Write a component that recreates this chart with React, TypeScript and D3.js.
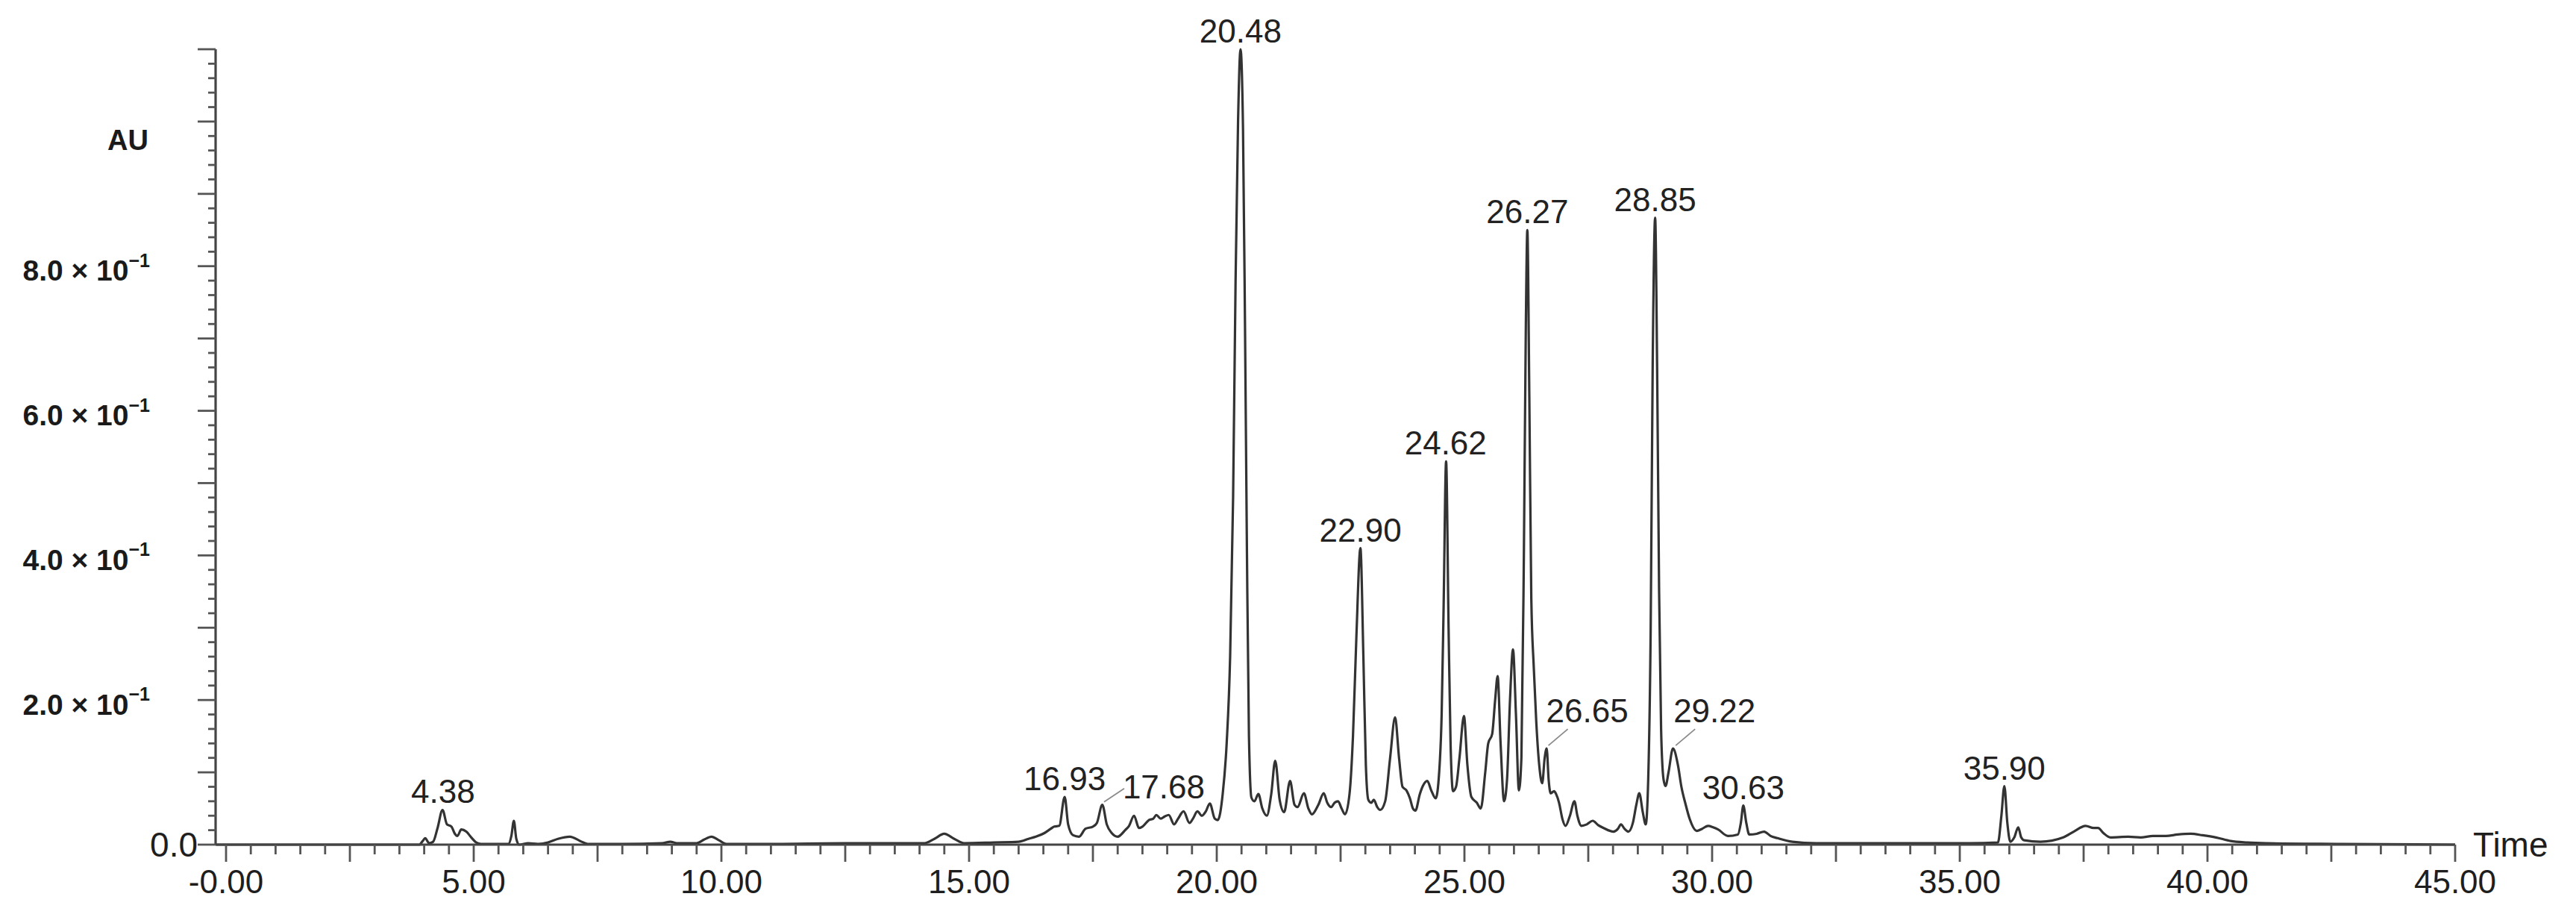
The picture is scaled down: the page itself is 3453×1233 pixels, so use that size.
import React from 'react';
import * as d3 from 'd3';

// ---- data ----
const traceTime = [
  -0.2, 3.9, 3.97, 4.02, 4.1, 4.18, 4.27, 4.37, 4.46, 4.55, 4.62, 4.67, 4.75, 4.85, 4.95, 5.05, 5.15,
  5.7, 5.76, 5.81, 5.86, 5.92, 6.1, 6.3, 6.5, 6.7, 6.94, 7.15, 7.3, 8.0, 8.8, 8.97, 9.1, 9.5, 9.65, 9.8,
  9.95, 10.1, 11.0, 12.5, 13.5, 14.1, 14.3, 14.5, 14.7, 14.9, 15.5, 16.0, 16.2, 16.35, 16.52, 16.65,
  16.72, 16.82, 16.93, 17.0, 17.1, 17.22, 17.35, 17.5, 17.58, 17.69, 17.78, 17.88, 18.0, 18.15, 18.23,
  18.33, 18.43, 18.5, 18.63, 18.72, 18.78, 18.87, 18.95, 19.03, 19.14, 19.22, 19.33, 19.45, 19.52,
  19.61, 19.7, 19.78, 19.86, 19.96, 20.02, 20.12, 20.2, 20.27, 20.33, 20.38, 20.43, 20.48, 20.53,
  20.57, 20.61, 20.65, 20.7, 20.76, 20.84, 20.92, 21.01, 21.1, 21.18, 21.27, 21.36, 21.48, 21.57,
  21.63, 21.76, 21.85, 21.92, 22.05, 22.16, 22.23, 22.31, 22.38, 22.45, 22.52, 22.59, 22.68, 22.75,
  22.82, 22.9, 22.96, 23.01, 23.06, 23.12, 23.17, 23.24, 23.3, 23.4, 23.5, 23.6, 23.68, 23.75, 23.83,
  23.9, 23.96, 24.01, 24.1, 24.16, 24.25, 24.33, 24.42, 24.49, 24.54, 24.58, 24.63, 24.68, 24.72,
  24.77, 24.83, 24.9, 24.99, 25.06, 25.14, 25.25, 25.33, 25.42, 25.48, 25.56, 25.62, 25.67, 25.73,
  25.8, 25.86, 25.92, 25.98, 26.04, 26.1, 26.15, 26.2, 26.24, 26.27, 26.31, 26.35, 26.4, 26.45, 26.51,
  26.57, 26.62, 26.66, 26.7, 26.74, 26.81, 26.85, 26.91, 26.98, 27.04, 27.13, 27.22, 27.28, 27.36,
  27.47, 27.59, 27.7, 27.81, 28.01, 28.1, 28.16, 28.23, 28.31, 28.4, 28.47, 28.53, 28.6, 28.66, 28.71,
  28.76, 28.8, 28.85, 28.89, 28.93, 28.97, 29.02, 29.06, 29.12, 29.21, 29.31, 29.38, 29.46, 29.55,
  29.69, 29.8, 29.92, 30.02, 30.12, 30.32, 30.52, 30.58, 30.63, 30.69, 30.75, 30.9, 31.05, 31.18,
  31.32, 31.62, 32.1, 33.5, 34.4, 35.2, 35.77, 35.84, 35.9, 35.96, 36.02, 36.1, 36.18, 36.24, 36.3,
  36.63, 37.09, 37.3, 37.54, 37.7, 37.79, 37.9, 38.04, 38.4, 38.65, 38.9, 39.16, 39.4, 39.66, 39.9,
  40.17, 40.47, 40.8, 41.18, 42.7, 45.0,
];

const traceAU = [
  0, 0, 0.005, 0.009, 0.002, 0.004, 0.023, 0.048, 0.028, 0.025, 0.015, 0.012, 0.021, 0.018, 0.01, 0.003, 0.001,
  0.001, 0.012, 0.033, 0.008, 0, 0.002, 0.001, 0.003, 0.008, 0.011, 0.005, 0.001, 0.001, 0.002, 0.004, 0.002, 0.002, 0.007, 0.011,
  0.006, 0.001, 0.001, 0.002, 0.002, 0.002, 0.008, 0.015, 0.008, 0.002, 0.003, 0.004, 0.008, 0.011, 0.016, 0.022,
  0.025, 0.026, 0.066, 0.028, 0.013, 0.011, 0.022, 0.025, 0.03, 0.055, 0.028, 0.016, 0.011, 0.02, 0.026,
  0.04, 0.023, 0.025, 0.034, 0.036, 0.041, 0.036, 0.039, 0.041, 0.028, 0.036, 0.046, 0.03, 0.036,
  0.046, 0.04, 0.046, 0.057, 0.036, 0.034, 0.07, 0.14, 0.26, 0.48, 0.78, 1.0, 1.1, 0.99,
  0.72, 0.4, 0.15, 0.065, 0.06, 0.07, 0.05, 0.04, 0.07, 0.116, 0.062, 0.045, 0.088, 0.055,
  0.052, 0.071, 0.05, 0.042, 0.055, 0.071, 0.058, 0.052, 0.058, 0.06, 0.05, 0.042, 0.07, 0.15,
  0.29, 0.41, 0.26, 0.11, 0.062, 0.058, 0.062, 0.052, 0.048, 0.06, 0.12, 0.176, 0.12, 0.08, 0.075,
  0.064, 0.05, 0.047, 0.07, 0.081, 0.088, 0.075, 0.064, 0.1, 0.18, 0.33, 0.53, 0.3, 0.14,
  0.074, 0.08, 0.12, 0.178, 0.11, 0.066, 0.058, 0.05, 0.1, 0.14, 0.153, 0.2, 0.233, 0.14,
  0.06, 0.09, 0.2, 0.27, 0.18, 0.075, 0.12, 0.4, 0.72, 0.85, 0.62, 0.34, 0.245, 0.17, 0.11,
  0.085, 0.12, 0.133, 0.09, 0.071, 0.074, 0.07, 0.058, 0.035, 0.026, 0.04, 0.06, 0.04, 0.026,
  0.028, 0.033, 0.027, 0.023, 0.018, 0.022, 0.028, 0.022, 0.018, 0.03, 0.055, 0.071, 0.045, 0.028, 0.09,
  0.3, 0.66, 0.867, 0.66, 0.35, 0.16, 0.09, 0.081, 0.1, 0.133, 0.11, 0.08, 0.057, 0.035,
  0.019, 0.022, 0.026, 0.024, 0.021, 0.012, 0.014, 0.03, 0.054, 0.03, 0.014, 0.015, 0.018, 0.012,
  0.009, 0.004, 0.002, 0.002, 0.002, 0.002, 0.003, 0.04, 0.081, 0.03, 0.004, 0.01, 0.024, 0.01, 0.006,
  0.004, 0.01, 0.018, 0.026, 0.023, 0.023, 0.016, 0.01, 0.011, 0.01, 0.012, 0.012, 0.014, 0.015, 0.013,
  0.01, 0.005, 0.003, 0.002, 0.001, 0,
];

const peakTimes = [4.38, 16.93, 17.68, 20.48, 22.9, 24.62, 26.27, 26.65, 28.85, 29.22, 30.63, 35.9];
const peakLabels = ['4.38', '16.93', '17.68', '20.48', '22.90', '24.62', '26.27', '26.65', '28.85', '29.22', '30.63', '35.90'];

const xTickValues = [0, 5, 10, 15, 20, 25, 30, 35, 40, 45];
const xTickLabels = ['-0.00', '5.00', '10.00', '15.00', '20.00', '25.00', '30.00', '35.00', '40.00', '45.00'];

const yTickValues = [0.2, 0.4, 0.6, 0.8];
const yTickMantissas = ['2.0', '4.0', '6.0', '8.0'];

// ---- layout (not data) ----
const W = 3453;
const H = 1233;
const AXIS_X = 289;
const FONT = "'Liberation Sans', Arial, Helvetica, sans-serif";
// labels moved aside with a leader line
const leaderLayout: Record<string, { dx: number; dy: number; lx: number; ly: number }> = {
  '17.68': { dx: 83, dy: 9, lx: 30, ly: 22 },
  '26.65': { dx: 55, dy: 35, lx: 29, ly: 26 },
  '29.22': { dx: 55, dy: 35, lx: 29, ly: 26 },
};

export default function App() {
  const x = d3.scaleLinear().domain([0, 45]).range([303, 3291]);
  const y = d3.scaleLinear().domain([0, 1.1]).range([1132, 66]);

  const pts: [number, number][] = traceTime.map((t, i) => [t, traceAU[i]]);
  const line = d3
    .line<[number, number]>()
    .x((d) => x(d[0]))
    .y((d) => y(d[1]))
    .curve(d3.curveMonotoneX);

  const xMinor = d3.range(0, 45.001, 0.5);
  const yMinor = d3.range(0, 1.1001, 0.02);

  const apex = (t: number) => {
    let best = 0;
    pts.forEach(([tt, v]) => {
      if (Math.abs(tt - t) <= 0.06 && v > best) best = v;
    });
    return best;
  };

  return (
    <svg
      width={W}
      height={H}
      viewBox={`0 0 ${W} ${H}`}
      style={{ position: 'absolute', left: 0, top: 0, background: '#fff' }}
      fontFamily={FONT}
    >
      <rect x={0} y={0} width={W} height={H} fill="#fff" />

      {/* trace */}
      <path d={line(pts) || ''} fill="none" stroke="#333" strokeWidth={3.2} strokeLinejoin="round" />

      {/* x axis */}
      <line x1={AXIS_X} x2={x(45)} y1={y(0)} y2={y(0)} stroke="#444" strokeWidth={3.2} />
      {xMinor.map((t) => {
        const major = Math.abs(t / 2.5 - Math.round(t / 2.5)) < 1e-6;
        return (
          <line
            key={'xt' + t}
            x1={x(t)}
            x2={x(t)}
            y1={y(0)}
            y2={y(0) + (major ? 23 : 13)}
            stroke="#555"
            strokeWidth={2.8}
          />
        );
      })}
      {xTickValues.map((t, i) => (
        <text key={'xl' + t} x={x(t)} y={1197} textAnchor="middle" fontSize={44} fill="#1e1e1e">
          {xTickLabels[i]}
        </text>
      ))}
      <text x={3315} y={1148} fontSize={46} fill="#1e1e1e">Time</text>

      {/* y axis */}
      <line x1={AXIS_X} x2={AXIS_X} y1={y(1.1)} y2={y(0)} stroke="#444" strokeWidth={3.2} />
      {yMinor.map((v) => {
        const major = Math.abs(v * 10 - Math.round(v * 10)) < 1e-6;
        return (
          <line
            key={'yt' + v.toFixed(2)}
            x1={AXIS_X - (major ? 24 : 10)}
            x2={AXIS_X}
            y1={y(v)}
            y2={y(v)}
            stroke="#555"
            strokeWidth={2.8}
          />
        );
      })}
      {yTickValues.map((v, i) => (
        <text
          key={'yl' + v}
          x={201}
          y={y(v) + 6}
          textAnchor="end"
          dominantBaseline="central"
          fontSize={39}
          fontWeight="bold"
          fill="#1a1a1a"
        >
          {yTickMantissas[i] + ' \u00d7 10'}
          <tspan fontSize={25} dy={-14}>{'\u22121'}</tspan>
        </text>
      ))}
      <text x={265} y={y(0)} textAnchor="end" dominantBaseline="central" fontSize={46} fill="#1e1e1e">
        0.0
      </text>
      <text x={199} y={188} textAnchor="end" dominantBaseline="central" fontSize={38} fontWeight="bold" fill="#1a1a1a">
        AU
      </text>

      {/* peak labels */}
      {peakTimes.map((t, i) => {
        const px = x(t);
        const py = y(apex(t));
        const lay = leaderLayout[peakLabels[i]];
        if (lay) {
          return (
            <g key={'pk' + t}>
              <line x1={px + 3} y1={py - 4} x2={px + lay.lx} y2={py - lay.ly} stroke="#8a8a8a" strokeWidth={1.8} />
              <text x={px + lay.dx} y={py - lay.dy} textAnchor="middle" fontSize={44} fill="#222">
                {peakLabels[i]}
              </text>
            </g>
          );
        }
        return (
          <text key={'pk' + t} x={px} y={py - 9} textAnchor="middle" fontSize={44} fill="#222">
            {peakLabels[i]}
          </text>
        );
      })}
    </svg>
  );
}
